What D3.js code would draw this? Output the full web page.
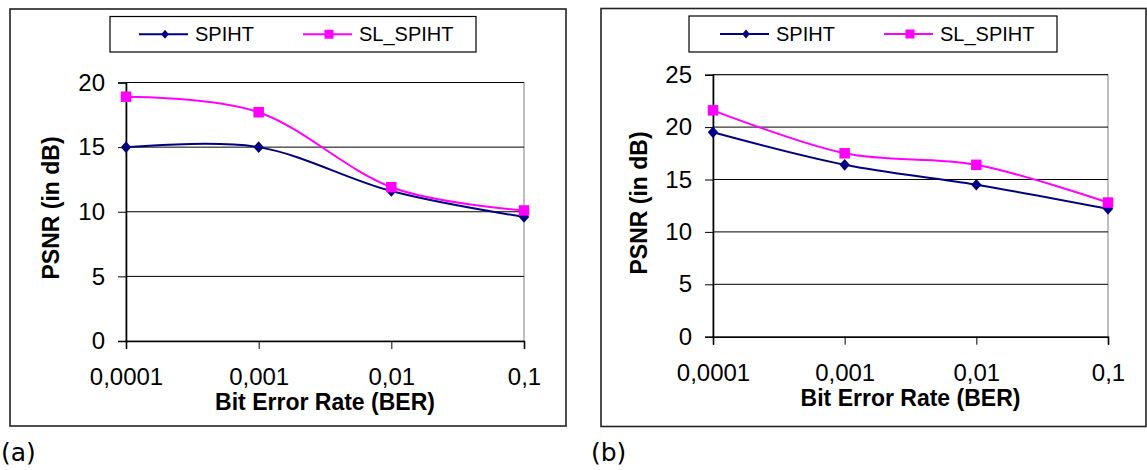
<!DOCTYPE html>
<html>
<head>
<meta charset="utf-8">
<script src="https://cdn.jsdelivr.net/npm/d3@7"></script>
<style>
  body{margin:0;background:#fff;}
  svg{display:block;font-family:"Liberation Sans",Arial,sans-serif;}
</style>
</head>
<body>
<svg id="chart" width="1147" height="470"></svg>
<script>
// values
const berLabels=["0,0001","0,001","0,01","0,1"]
const seriesNames=["SPIHT","SL_SPIHT"]
const spihtA=[15.0,15.0,11.6,9.6]
const slSpihtA=[18.9,17.7,11.9,10.1]
const spihtB=[19.5,16.4,14.5,12.2]
const slSpihtB=[21.6,17.5,16.4,12.8]
const yTicksA=[0,5,10,15,20]
const yTicksB=[0,5,10,15,20,25]

const colors=["#000080","#FF00FF"]

const panels=[
  {name:"(a)",data:[spihtA,slSpihtA],ticks:yTicksA,
   frame:[10,9,566,426],plot:[126,82.5,524,341],
   legend:[110,16.5,476,52],legendX:[139,303],
   yTitle:[59,208],xTitleY:410,label:[1,461]},
  {name:"(b)",data:[spihtB,slSpihtB],ticks:yTicksB,
   frame:[601,8.5,1146,426.5],plot:[713,74.7,1108,336.7],
   legend:[689,16,1057,52],legendX:[720,884],
   yTitle:[647,203],xTitleY:406,label:[591,461]}
]

const svg=d3.select("#chart")

function marker(sel,i,big){
  if(i==0){
    const w=big?5.2:3.8, h=big?5.8:4.4
    sel.append("path").attr("d",`M0,${-h}L${w},0L0,${h}L${-w},0Z`).attr("fill",colors[0])
  }else{
    const s=big?10.5:9
    sel.append("rect").attr("x",-s/2).attr("y",-s/2).attr("width",s).attr("height",s).attr("fill",colors[1])
  }
}

panels.forEach(p=>{
  const g=svg.append("g")
  const [fx0,fy0,fx1,fy1]=p.frame
  g.append("rect").attr("x",fx0).attr("y",fy0).attr("width",fx1-fx0).attr("height",fy1-fy0)
    .attr("fill","none").attr("stroke","#222").attr("stroke-width",1.6)

  const [px0,py0,px1,py1]=p.plot
  const x=d3.scalePoint().domain(berLabels).range([px0,px1])
  const y=d3.scaleLinear().domain([0,d3.max(p.ticks)]).range([py1,py0])

  // plot box
  g.append("rect").attr("x",px0).attr("y",py0).attr("width",px1-px0).attr("height",py1-py0)
    .attr("fill","none").attr("stroke","#808080").attr("stroke-width",1)

  // gridlines
  g.selectAll(".grid").data(p.ticks.filter(t=>t>0)).enter().append("line")
    .attr("x1",px0).attr("x2",px1).attr("y1",d=>y(d)).attr("y2",d=>y(d))
    .attr("stroke","#000").attr("stroke-width",1)

  const yaxis=d3.axisLeft(y).tickValues(p.ticks).tickSize(8).tickPadding(13).tickFormat(d3.format("d"))
  const ya=g.append("g").attr("transform",`translate(${px0},0)`).call(yaxis)
  const xaxis=d3.axisBottom(x).tickSize(8).tickPadding(19)
  const xa=g.append("g").attr("transform",`translate(0,${py1})`).call(xaxis)
  ;[ya,xa].forEach(a=>{
    a.select(".domain").attr("stroke","#000").attr("stroke-width",1.6)
    a.selectAll(".tick line").attr("stroke","#000").attr("stroke-width",1)
    a.selectAll(".tick text").attr("font-size",24).attr("fill","#000")
      .attr("font-family","Liberation Sans, Arial, sans-serif")
  })

  // series
  const line=d3.line().x((d,i)=>x(berLabels[i])).y(d=>y(d)).curve(d3.curveCardinal.tension(0))
  p.data.forEach((vals,si)=>{
    g.append("path").attr("d",line(vals)).attr("fill","none")
      .attr("stroke",colors[si]).attr("stroke-width",2)
  })
  p.data.forEach((vals,si)=>{
    vals.forEach((v,i)=>{
      const m=g.append("g").attr("transform",`translate(${x(berLabels[i])},${y(v)})`)
      marker(m,si,true)
    })
  })

  // titles
  g.append("text").attr("x",(px0+px1)/2).attr("y",p.xTitleY).attr("text-anchor","middle")
    .attr("font-size",23).attr("font-weight","bold").text("Bit Error Rate (BER)")
  g.append("text").attr("transform",`translate(${p.yTitle[0]},${p.yTitle[1]}) rotate(-90)`)
    .attr("text-anchor","middle").attr("font-size",23).attr("font-weight","bold").text("PSNR (in dB)")

  // legend
  const [lx0,ly0,lx1,ly1]=p.legend
  g.append("rect").attr("x",lx0).attr("y",ly0).attr("width",lx1-lx0).attr("height",ly1-ly0)
    .attr("fill","#fff").attr("stroke","#000").attr("stroke-width",1.2)
  const ly=(ly0+ly1)/2
  seriesNames.forEach((n,i)=>{
    const sx=p.legendX[i]
    g.append("line").attr("x1",sx).attr("x2",sx+49).attr("y1",ly).attr("y2",ly)
      .attr("stroke",colors[i]).attr("stroke-width",2)
    const m=g.append("g").attr("transform",`translate(${sx+26},${ly})`)
    marker(m,i,false)
    g.append("text").attr("x",sx+56).attr("y",ly+7).attr("font-size",20).text(n)
  })

  // panel label
  g.append("text").attr("x",p.label[0]).attr("y",p.label[1])
    .attr("font-family","DejaVu Sans, sans-serif").attr("font-size",25).text(p.name)
})
</script>
</body>
</html>
